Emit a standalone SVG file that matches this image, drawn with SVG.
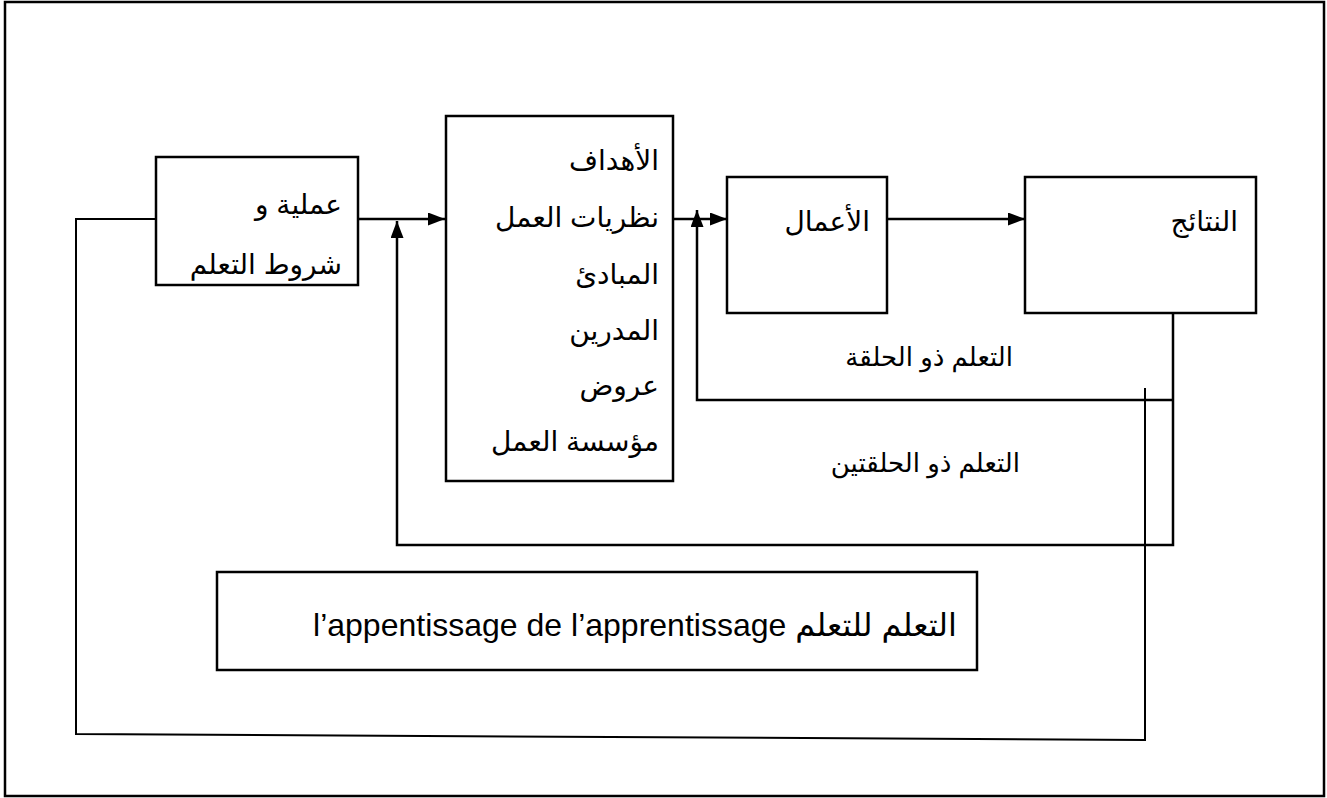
<svg xmlns="http://www.w3.org/2000/svg" width="1327" height="798" viewBox="0 0 1327 798">
  <style>
    .box { fill: #ffffff; stroke: #000000; stroke-width: 2.5; }
    .line { fill: none; stroke: #000000; stroke-width: 2.5; }
    .thin { fill: none; stroke: #000000; stroke-width: 2; }
    .ar { font-family: "Liberation Sans", "DejaVu Sans", sans-serif; font-size: 28px; fill: #000000; direction: rtl; text-anchor: start; }
    .ar-sm { font-family: "Liberation Sans", "DejaVu Sans", sans-serif; font-size: 26px; fill: #000000; direction: rtl; text-anchor: start; }
    .lat { font-family: "Liberation Sans", "DejaVu Sans", sans-serif; font-size: 32px; fill: #000000; }
  </style>
  <defs>
    <marker id="arrow" viewBox="0 0 17 13" refX="17" refY="6.5" markerWidth="17" markerHeight="13" markerUnits="userSpaceOnUse" orient="auto">
      <path d="M0,0 L17,6.5 L0,13 z" fill="#000000"/>
    </marker>
  </defs>

  <!-- frame -->
  <rect x="5" y="2" width="1319" height="794" fill="#ffffff" stroke="#000000" stroke-width="2.5"/>

  <!-- connectors -->
  <g id="connectors">
    <line class="line" x1="358" y1="219" x2="445" y2="219" marker-end="url(#arrow)"/>
    <line class="line" x1="673" y1="219" x2="727" y2="219" marker-end="url(#arrow)"/>
    <line class="line" x1="887" y1="219" x2="1025" y2="219" marker-end="url(#arrow)"/>
    <!-- single loop -->
    <polyline class="line" points="1173,400 697,400 697,210" marker-end="url(#arrow)"/>
    <!-- double loop -->
    <polyline class="line" points="1173,313 1173,545 397,545 397,221" marker-end="url(#arrow)"/>
    <!-- learning to learn loop -->
    <polyline class="thin" points="1145,388 1145,740 76,734 76,219 155,219"/>
  </g>

  <g id="node-conditions">
    <rect class="box" x="156" y="157" width="202" height="128"/>
    <text class="ar" x="342" y="214">عملية و</text>
    <text class="ar" x="342" y="274">شروط التعلم</text>
  </g>

  <g id="node-inputs">
    <rect class="box" x="446" y="116" width="227" height="365"/>
    <text class="ar" x="659" y="170">الأهداف</text>
    <text class="ar" x="659" y="227">نظريات العمل</text>
    <text class="ar" x="659" y="284">المبادئ</text>
    <text class="ar" x="659" y="340">المدرين</text>
    <text class="ar" x="659" y="395">عروض</text>
    <text class="ar" x="659" y="451">مؤسسة العمل</text>
  </g>

  <g id="node-actions">
    <rect class="box" x="727" y="177" width="160" height="136"/>
    <text class="ar" x="870" y="231">الأعمال</text>
  </g>

  <g id="node-results">
    <rect class="box" x="1025" y="177" width="231" height="136"/>
    <text class="ar" x="1238" y="231">النتائج</text>
  </g>

  <g id="label-single-loop">
    <text class="ar-sm" x="1013" y="366">التعلم ذو الحلقة</text>
  </g>

  <g id="label-double-loop">
    <text class="ar-sm" x="1020" y="472">التعلم ذو الحلقتين</text>
  </g>

  <g id="node-deutero">
    <rect class="box" x="217" y="572" width="760" height="98"/>
    <text class="lat" x="957" y="636" text-anchor="end">l’appentissage de l’apprentissage <tspan>التعلم للتعلم</tspan></text>
  </g>
</svg>
